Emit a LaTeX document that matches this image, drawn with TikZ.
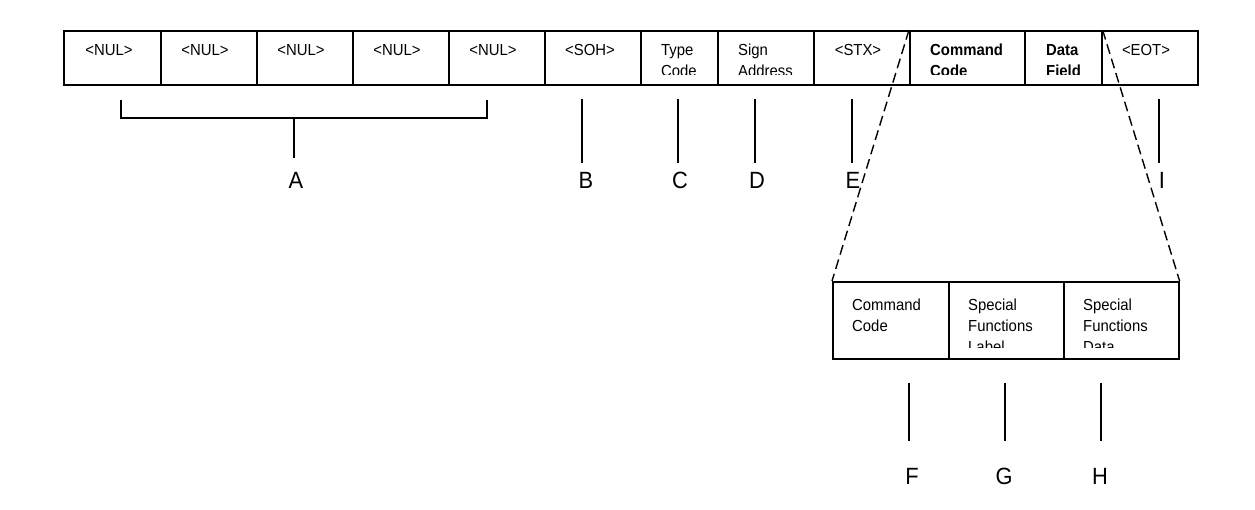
\documentclass[tikz,border=0pt]{standalone}
\usepackage{fontspec}
\setmainfont{Liberation Sans}
\newfontfamily\narrowfont[FakeStretch=0.93]{Liberation Sans}
\tikzset{
  cellbox/.style={draw, line width=1.6pt, inner sep=0pt, anchor=north west},
  ctext/.style={inner sep=0pt, anchor=base, font=\narrowfont\fontsize{16}{21}\selectfont},
  ltext/.style={inner sep=0pt, anchor=north west, align=left, font=\narrowfont\fontsize{16}{21}\selectfont},
  btext/.style={ltext, font=\narrowfont\fontsize{16}{21}\selectfont\bfseries},
  lowtext/.style={inner sep=0pt, anchor=north west, align=left, font=\narrowfont\fontsize{16}{21}\selectfont},
  pointer/.style={line width=1.6pt},
  letter/.style={inner sep=0pt, anchor=base, font=\narrowfont\fontsize{23.5}{24}\selectfont},
  zoomline/.style={line width=1.4pt, dash pattern=on 10pt off 5pt}
}
% name, x1, x2
\newcommand{\topcell}[3]{\node[cellbox, minimum width={(#3-#2)*1pt}, minimum height=54pt] (#1) at (#2,30) {};}
\newcommand{\lowcell}[3]{\node[cellbox, minimum width={(#3-#2)*1pt}, minimum height=77pt] (#1) at (#2,281) {};}
\begin{document}
\begin{tikzpicture}[x=1pt,y=-1pt]
\useasboundingbox (0,0) rectangle (1255,510);
% top row
\topcell{n1}{63}{160}
\topcell{n2}{160}{256}
\topcell{n3}{256}{352}
\topcell{n4}{352}{448}
\topcell{n5}{448}{544}
\topcell{soh}{544}{640}
\topcell{type}{640}{717}
\topcell{sign}{717}{813}
\topcell{stx}{813}{909}
\topcell{cmd}{909}{1024}
\topcell{data}{1024}{1101}
\topcell{eot}{1101}{1197}
\node[ctext] (tn1) at (109,55.7) {<NUL>};
\node[ctext] (tn2) at (205,55.7) {<NUL>};
\node[ctext] (tn3) at (301,55.7) {<NUL>};
\node[ctext] (tn4) at (397,55.7) {<NUL>};
\node[ctext] (tn5) at (493,55.7) {<NUL>};
\node[ctext] (tsoh) at (590,55.7) {<SOH>};
\node[ctext] (tstx) at (858,55.7) {<STX>};
\node[ctext] (teot) at (1146,55.7) {<EOT>};
\begin{scope}
  \clip (640,30) rectangle (1101,75);
  \node[ltext] (ttype) at (661,44) {Type\\Code};
  \node[ltext] (tsign) at (738,44) {Sign\\Address};
  \node[btext] (tcmd) at (930,44) {Command\\Code};
  \node[btext] (tdata) at (1046,44) {Data\\Field};
\end{scope}
% lower row
\lowcell{lc}{832}{948}
\lowcell{lsl}{948}{1063}
\lowcell{lsd}{1063}{1178}
\begin{scope}
  \clip (832,281) rectangle (1178,347.5);
  \node[lowtext] (tlc) at (852,298.3) {Command\\Code};
  \node[lowtext] (tlsl) at (968,298.3) {Special\\Functions\\Label};
  \node[lowtext] (tlsd) at (1083,298.3) {Special\\Functions\\Data};
\end{scope}
% zoom lines
\draw[zoomline] (cmd.north west) -- (lc.north west);
\draw[zoomline] (data.north east) -- (lsd.north east);
% bracket A
\coordinate (bl) at (121,100);
\coordinate (br) at (487,100);
\coordinate (bm) at (294,118);
\coordinate (bs) at (294,158);
\draw[pointer] (bl) |- (br |- bm) -- (br);
\draw[pointer] (bm) -- (bs);
\node[letter] (A) at (296,189) {A};
% pointers top
\foreach \n/\x/\lx in {B/582/586, C/678/680, D/755/757, E/852/853, I/1159/1162}{
  \coordinate (p\n t) at (\x,99);
  \coordinate (p\n b) at (\x,163);
  \draw[pointer] (p\n t) -- (p\n b);
  \node[letter] (\n) at (\lx,189) {\n};
}
% pointers bottom
\foreach \n/\x/\lx in {F/909/912, G/1005/1004, H/1101/1100}{
  \coordinate (p\n t) at (\x,383);
  \coordinate (p\n b) at (\x,441);
  \draw[pointer] (p\n t) -- (p\n b);
  \node[letter] (\n) at (\lx,484) {\n};
}
\end{tikzpicture}
\end{document}
